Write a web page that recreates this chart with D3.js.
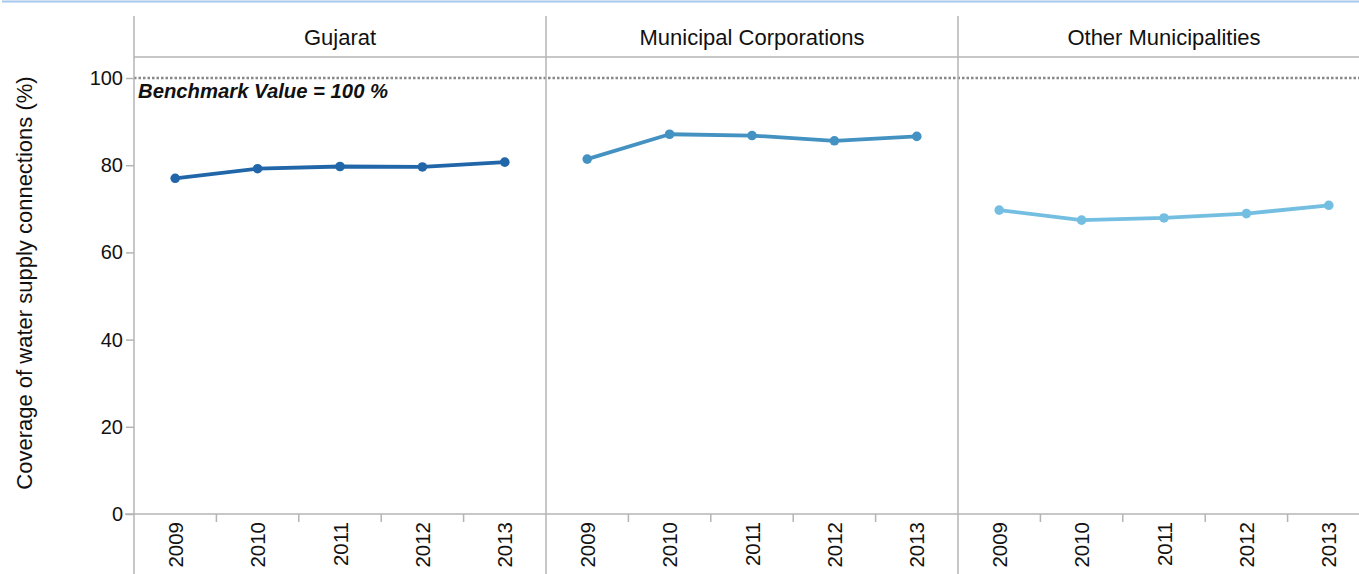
<!DOCTYPE html>
<html><head><meta charset="utf-8">
<script src="https://cdn.jsdelivr.net/npm/d3@7"></script>
<style>
html,body{margin:0;padding:0;background:#fff;overflow:hidden}
svg{display:block;font-family:"Liberation Sans",Arial,sans-serif}
</style></head>
<body>
<svg id="chart" width="1359" height="574"></svg>
<script>
const years = ["2009","2010","2011","2012","2013"];
const panels = ["Gujarat","Municipal Corporations","Other Municipalities"];
const gujarat = [77.0, 79.2, 79.7, 79.6, 80.7];
const municipalCorporations = [81.4, 87.1, 86.8, 85.6, 86.6];
const otherMunicipalities = [69.7, 67.4, 67.9, 68.9, 70.8];
const seriesValues = [gujarat, municipalCorporations, otherMunicipalities];
const colors = ["#2166a8", "#4392c2", "#74bfe1"];
const yTicks = [0, 20, 40, 60, 80, 100];
const benchmark = 100;
const benchmarkLabel = "Benchmark Value = 100 %";
const yTitle = "Coverage of water supply connections (%)";

const svg = d3.select("#chart");
const gray = "#b4b4b4";
const leftX = 134, panelW = 412, topY = 16, headerH = 41, bottomY = 514;

// top border
svg.append("line").attr("x1",2).attr("x2",1359).attr("y1",1.5).attr("y2",1.5)
  .attr("stroke","#a6c8ec").attr("stroke-width",2);

const y = d3.scaleLinear().domain([0, 100]).range([bottomY, 78]);
const panelScale = d3.scaleBand().domain(panels).range([leftX, leftX + panelW*3]).padding(0);

// y axis
const yAxis = d3.axisLeft(y).tickValues(yTicks).tickSize(8).tickPadding(3);
const gy = svg.append("g").attr("transform",`translate(${leftX},0)`).call(yAxis);
gy.select(".domain").remove();
gy.selectAll(".tick line").attr("stroke",gray).attr("stroke-width",1.5);
gy.selectAll(".tick text").attr("font-size",20).attr("fill","#111")
  .attr("font-family","Liberation Sans, Arial, sans-serif");

// y title
svg.append("text").attr("transform",`translate(32,283) rotate(-90)`)
  .attr("text-anchor","middle").attr("font-size",22).attr("fill","#111").text(yTitle);

// header line and x axis line
svg.append("line").attr("x1",leftX).attr("x2",1359).attr("y1",topY+headerH).attr("y2",topY+headerH)
  .attr("stroke",gray).attr("stroke-width",1.5);
svg.append("line").attr("x1",leftX-9).attr("x2",1359).attr("y1",bottomY).attr("y2",bottomY)
  .attr("stroke",gray).attr("stroke-width",1.5);

// benchmark line
svg.append("line").attr("x1",leftX).attr("x2",1359).attr("y1",y(benchmark)).attr("y2",y(benchmark))
  .attr("stroke","#888").attr("stroke-width",2.5).attr("stroke-dasharray","2.5,2");
svg.append("text").attr("x",leftX+4).attr("y",y(benchmark)+20)
  .attr("font-size",20.3).attr("font-weight","bold").attr("font-style","italic").attr("fill","#111")
  .text(benchmarkLabel);

panels.forEach((p, i) => {
  const x0 = panelScale(p);
  const x = d3.scaleBand().domain(years).range([x0, x0 + panelW]).padding(0);
  svg.append("line").attr("x1",x0).attr("x2",x0).attr("y1",topY).attr("y2",574)
    .attr("stroke",gray).attr("stroke-width",1.5);
  svg.append("text").attr("x",x0+panelW/2).attr("y",topY+29).attr("text-anchor","middle")
    .attr("font-size",22).attr("fill","#111").text(p);
  svg.selectAll(null).data(years.slice(1)).enter().append("line")
    .attr("x1",d=>x(d)).attr("x2",d=>x(d)).attr("y1",bottomY).attr("y2",bottomY+8)
    .attr("stroke",gray).attr("stroke-width",1.5);
  svg.selectAll(null).data(years).enter().append("text")
    .attr("transform",d=>`translate(${x(d)+x.bandwidth()/2+7.5},${bottomY+8}) rotate(-90)`)
    .attr("text-anchor","end").attr("font-size",20.5).attr("fill","#111").text(d=>d);
  const vals = seriesValues[i];
  const pts = years.map((yr, j) => [x(yr)+x.bandwidth()/2, y(vals[j])]);
  svg.append("path").attr("d", d3.line()(pts)).attr("fill","none")
    .attr("stroke",colors[i]).attr("stroke-width",3.8).attr("stroke-linejoin","round");
  svg.selectAll(null).data(pts).enter().append("circle")
    .attr("cx",d=>d[0]).attr("cy",d=>d[1]).attr("r",4.8).attr("fill",colors[i]);
});
</script>
</body></html>
